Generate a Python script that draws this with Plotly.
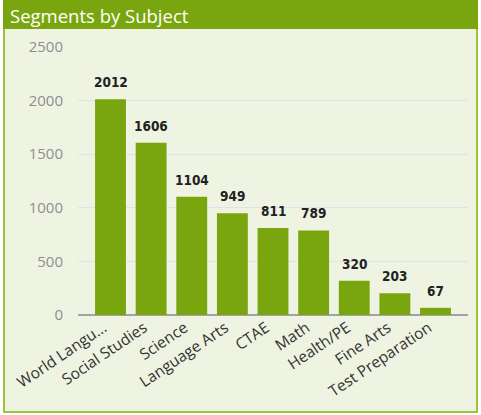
import plotly.graph_objects as go

categories = ["World Langu...", "Social Studies", "Science", "Language Arts", "CTAE",
              "Math", "Health/PE", "Fine Arts", "Test Preparation"]
values = [2012, 1606, 1104, 949, 811, 789, 320, 203, 67]
y_ticks = [0, 500, 1000, 1500, 2000, 2500]

W, H = 481, 415
L, R, T, B = 78, 13, 47, 100
pw, ph = W - L - R, H - T - B

def px(x):
    return (x - L) / pw

def py(y):
    return (H - B - y) / ph

GREEN = "#79a60f"
BG = "#eff4e2"
xs = list(range(len(categories)))

fig = go.Figure(go.Bar(
    x=xs, y=values,
    marker=dict(color=GREEN, line=dict(width=0)),
    width=0.76,
    hoverinfo="skip",
))

annotations = [dict(x=x, y=v, text=str(v), xref="x", yref="y", showarrow=False,
                    xanchor="center", yanchor="bottom", yshift=7,
                    font=dict(family="DejaVu Sans Condensed, DejaVu Sans",
                              size=13.5, color="#222222", weight="bold"))
               for x, v in zip(xs, values)]
annotations.append(dict(text="Segments by Subject", xref="paper", yref="paper",
                        x=px(8), y=py(15), xanchor="left", yanchor="middle", showarrow=False,
                        font=dict(family="Open Sans", size=18.5, color="white")))

fig.update_layout(
    width=W, height=H,
    margin=dict(l=L, r=R, t=T, b=B, autoexpand=False),
    paper_bgcolor="white", plot_bgcolor=BG,
    showlegend=False,
    xaxis=dict(tickmode="array", tickvals=xs, ticktext=categories,
               range=[-0.8, 8.8], tickangle=-34, showgrid=False, zeroline=False,
               tickfont=dict(family="Open Sans", size=15.5, color="#333333"), ticks="",
               ticklabelshift=-7),
    yaxis=dict(range=[0, 2500], tickvals=y_ticks, showgrid=True, gridcolor="#dde3e8",
               gridwidth=1, zeroline=True, zerolinecolor="#a0a4a8", zerolinewidth=2,
               tickfont=dict(family="Open Sans", size=15, color="#8e8e8e"), ticks="",
               ticklabelstandoff=14),
    shapes=[
        dict(type="rect", xref="paper", yref="paper", layer="below",
             x0=px(4), x1=px(477), y0=py(412), y1=py(1),
             fillcolor=BG, line=dict(color="#9cc43c", width=2)),
        dict(type="rect", xref="paper", yref="paper", layer="below",
             x0=px(3), x1=px(478), y0=py(29), y1=py(0),
             fillcolor=GREEN, line=dict(width=0)),
    ],
    annotations=annotations,
)

fig.write_html("out.html", config={"displayModeBar": False},
               post_script="document.body.style.margin='0';document.body.style.overflow='hidden';")
